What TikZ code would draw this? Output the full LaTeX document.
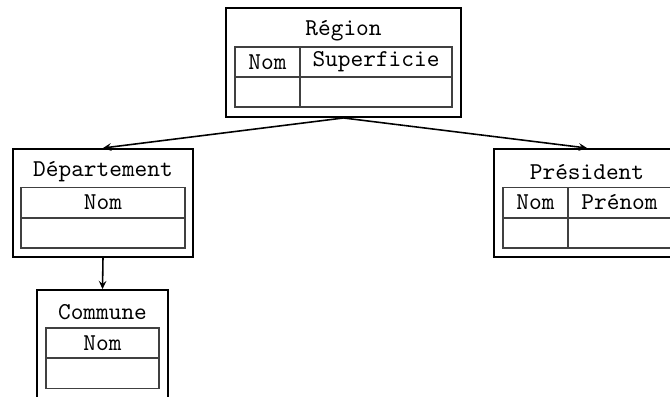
\documentclass[tikz,border=0pt]{standalone}
\usepackage{fontspec}
\usetikzlibrary{arrows.meta}
\newdimen\pxu \pxu=0.4134pt
\tikzset{
  entity/.style={draw=black, line width=0.8pt, inner sep=0pt, minimum width=#1},
  cell/.style={draw=black!75, line width=0.45pt, inner sep=0pt, minimum height=30\pxu, font=\ttfamily},
  ttl/.style={inner sep=0pt, font=\ttfamily},
  link/.style={-{Stealth[length=3.4pt, width=3.2pt, inset=1.3pt]}, line width=0.65pt},
}
\begin{document}
\begin{tikzpicture}[x=\pxu, y=-\pxu]
\useasboundingbox (0,0) rectangle (670,397);
\clip (0,0) rectangle (670,397);
% Region
\node[entity=235\pxu, minimum height=109\pxu] (reg) at (343.5,62.5) {};
\node[ttl] (regt) at (343.5,31) {Région};
\node[cell, minimum width=65\pxu] (regc1) at (267.5,62) {Nom};
\node[cell, minimum width=152\pxu] (regc2) at (376,62) {Superficie};
\node[cell, minimum width=65\pxu] (regd1) at (267.5,92) {};
\node[cell, minimum width=152\pxu] (regd2) at (376,92) {};
% Departement
\node[entity=180\pxu, minimum height=108\pxu] (dep) at (103,203) {};
\node[ttl] (dept) at (103,172) {Département};
\node[cell, minimum width=164\pxu] (depc1) at (103,202.5) {Nom};
\node[cell, minimum width=164\pxu] (depd1) at (103,233) {};
% President
\node[entity=186\pxu, minimum height=108\pxu] (pre) at (587,203) {};
\node[ttl] (pret) at (587,172) {Président};
\node[cell, minimum width=65\pxu] (prec1) at (535.5,202.5) {Nom};
\node[cell, minimum width=103\pxu] (prec2) at (619.5,202.5) {Prénom};
\node[cell, minimum width=65\pxu] (pred1) at (535.5,233) {};
\node[cell, minimum width=103\pxu] (pred2) at (619.5,233) {};
% Commune
\node[entity=131\pxu, minimum height=108\pxu] (com) at (102.5,344) {};
\node[ttl] (comt) at (102.5,312) {Commune};
\node[cell, minimum width=113\pxu] (comc1) at (102.5,343) {Nom};
\node[cell, minimum width=113\pxu] (comd1) at (102.5,373.5) {};
% links
\draw[link] (reg.south) -- (dep.north);
\draw[link] (reg.south) -- (pre.north);
\draw[link] (dep.south) -- (com.north);
\end{tikzpicture}
\end{document}
